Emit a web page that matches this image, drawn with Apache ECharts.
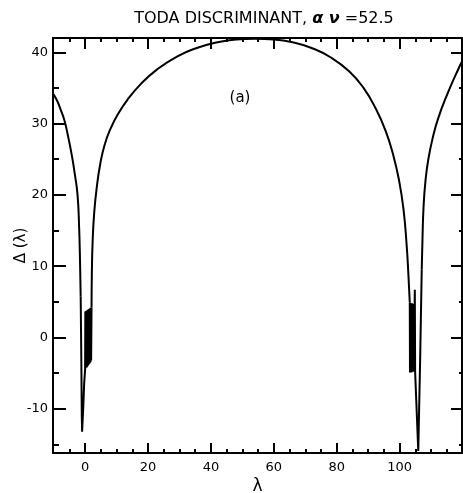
<!DOCTYPE html>
<html>
<head>
<meta charset="utf-8">
<script src="https://cdn.jsdelivr.net/npm/echarts@6/dist/echarts.min.js"></script>
<style>html,body{margin:0;padding:0;background:#fff;}#c{width:463px;height:493px;}</style>
</head>
<body>
<div id="c"></div>
<script>
// ---- data: [lambda, Delta] ----
var leftArm = [[-10.2,34.2],[-9,33.3],[-7.8,32.0],[-6.6,30.5],[-5.5,28.4],[-4.2,25.5],[-3.3,23.0],[-2.4,20.0],[-1.9,15.5],[-1.6,10.5],[-1.4,5.7]];
var leftBand = [[-1.4,5.7],[-1.2,-3],[-1.05,-11],[-0.95,-13.2],[-0.6,-10],[-0.3,-6.5],[0.0,-4.5],
  [0.08,3.6],[0.16,-4.3],[0.24,3.7],[0.32,-4.2],[0.4,3.7],[0.48,-4.2],[0.56,3.8],[0.64,-4.1],[0.72,3.8],
  [0.8,-4.0],[0.88,3.9],[0.96,-3.9],[1.04,3.9],[1.12,-3.8],[1.2,4.0],[1.28,-3.7],[1.36,4.0],[1.44,-3.6],
  [1.52,4.1],[1.6,-3.5],[1.68,4.1],[1.76,-3.4],[1.84,4.2],[1.92,-3.2],[2.0,-3.1],[2.05,4.2]];
var arch = [[2.05,4.2],[2.15,9],[2.4,13.5],[2.9,17.5],[3.7,21],[4.8,24.3],[6.2,27.0],[8.1,29.3],[10.4,31.3],
  [13.4,33.3],[17.6,35.5],[22.9,37.6],[29.2,39.4],[35.5,40.6],[42,41.4],[48,41.8],[54,41.9],
  [60,41.8],[66,41.4],[72,40.6],[78,39.3],[84,37.3],[88.5,35.0],[92.5,32.0],[95.5,29.0],[98.0,25.5],
  [99.8,22],[101.2,18],[102.2,13],[102.8,8.5],[103.2,4.9]];
var rightBand = [[103.2,4.9],[103.27,-4.9],[103.34,4.9],[103.41,-4.9],[103.48,4.8],[103.55,-4.9],[103.62,4.8],
  [103.69,-4.9],[103.76,4.8],[103.83,-4.8],[103.9,4.8],[103.97,-4.8],[104.04,4.7],[104.11,-4.8],[104.18,4.7],
  [104.25,-4.8],[104.32,4.7],[104.39,-4.8],[104.46,4.7],[104.53,-4.8],[104.6,4.6],[104.67,-4.8],[104.74,4.6],
  [104.8,6.7],[104.9,-4.8],[105.9,-15.9],[106.5,-3],[107.0,9.5]];
var rightArm = [[107.0,9.5],[107.25,14],[107.6,18.5],[108.2,22],[109.1,25.0],[110.5,28],[112.2,30.7],
  [115.2,34.2],[118.9,37.9],[119.8,38.7]];
var xMajor = [0,20,40,60,80,100];
var xMinor = [-5,5,10,15,25,30,35,45,50,55,65,70,75,85,90,95,105,110,115];
var yMajor = [-10,0,10,20,30,40];
var yMinor = [-15,-5,5,15,25,35];

var FONT = 'DejaVu Sans';
var X0 = -10.2, X1 = 119.8, Y0 = -16.2, Y1 = 42;

function xAx(pos, ticks, len, showLine, showLabel, extra) {
  var a = {
    type: 'value', position: pos, min: X0, max: X1,
    axisLine: {show: showLine, onZero: false, lineStyle: {color: '#000', width: 2}},
    axisTick: {show: true, inside: true, length: len, customValues: ticks, lineStyle: {color: '#000', width: 2}},
    axisLabel: showLabel ? {show: true, customValues: ticks, margin: 8, color: '#000', fontFamily: FONT, fontSize: 13} : {show: false},
    splitLine: {show: false}
  };
  return Object.assign(a, extra || {});
}
function yAx(pos, ticks, len, showLine, showLabel, extra) {
  var a = {
    type: 'value', position: pos, min: Y0, max: Y1,
    axisLine: {show: showLine, onZero: false, lineStyle: {color: '#000', width: 2}},
    axisTick: {show: true, inside: true, length: len, customValues: ticks, lineStyle: {color: '#000', width: 2}},
    axisLabel: showLabel ? {show: true, customValues: ticks, margin: 5, color: '#000', fontFamily: FONT, fontSize: 13} : {show: false},
    splitLine: {show: false}
  };
  return Object.assign(a, extra || {});
}

function lineSeries(data, smooth) {
  return {
    type: 'line', data: data, xAxisIndex: 0, yAxisIndex: 0, showSymbol: false, symbol: 'none',
    smooth: smooth ? 0.5 : false,
    lineStyle: {color: '#000', width: 2}, clip: true, silent: true
  };
}

var chart = echarts.init(document.getElementById('c'), null, {renderer: 'canvas'});
chart.setOption({
  animation: false,
  backgroundColor: '#fff',
  title: {
    text: 'TODA DISCRIMINANT, {g|α ν} =52.5',
    left: 259, top: 6, textAlign: 'center',
    textStyle: {
      color: '#000', fontFamily: FONT, fontSize: 16, fontWeight: 'normal',
      rich: {g: {fontStyle: 'italic', fontWeight: 'bold', fontFamily: FONT, fontSize: 16, color: '#000'}}
    }
  },
  grid: {left: 53, right: 1, top: 38, bottom: 40, containLabel: false, outerBoundsMode: 'none'},
  xAxis: [
    xAx('bottom', xMajor, 10, true, true, {name: 'λ', nameLocation: 'middle', nameGap: 25, nameMoveOverlap: false,
      nameTextStyle: {color: '#000', fontFamily: FONT, fontSize: 17}}),
    xAx('bottom', xMinor, 4, false, false),
    xAx('top', xMajor, 11, true, false),
    xAx('top', xMinor, 4, false, false)
  ],
  yAxis: [
    yAx('left', yMajor, 13, true, true, {name: 'Δ (λ)', nameLocation: 'middle', nameGap: 24, nameMoveOverlap: false,
      nameTextStyle: {color: '#000', fontFamily: FONT, fontSize: 15}}),
    yAx('left', yMinor, 6, false, false),
    yAx('right', yMajor, 11, true, false),
    yAx('right', yMinor, 3, false, false)
  ],
  graphic: [{
    type: 'text', x: 240, y: 98,
    style: {text: '(a)', fill: '#000', font: '15px "DejaVu Sans"', textAlign: 'center', textVerticalAlign: 'middle'}
  }],
  series: [
    lineSeries(leftArm, true),
    lineSeries(leftBand, false),
    lineSeries(arch, true),
    lineSeries(rightBand, false),
    lineSeries(rightArm, true)
  ]
});
</script>
</body>
</html>
